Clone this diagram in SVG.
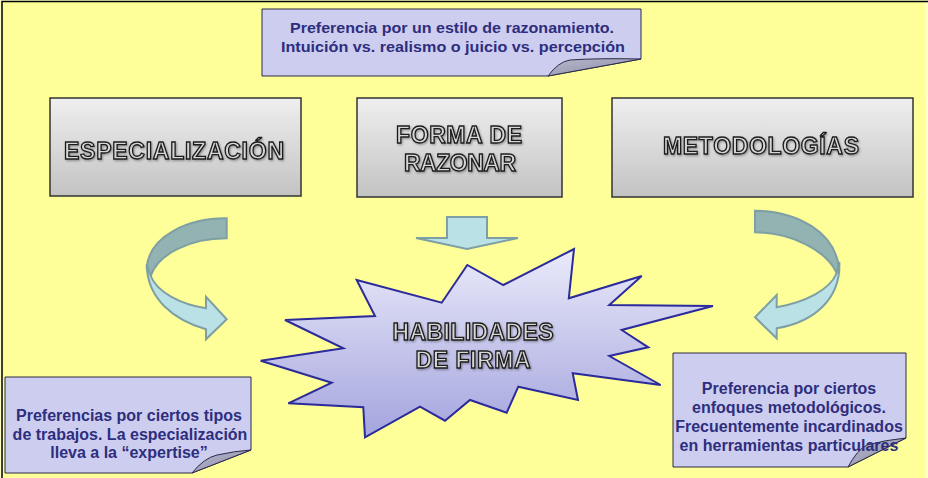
<svg xmlns="http://www.w3.org/2000/svg" width="928" height="478" viewBox="0 0 928 478">
<style>
.box{stroke:#333;stroke-width:1.5;fill:url(#gBox)}
.bt{font-family:"Liberation Sans",Arial,sans-serif;font-weight:bold;font-size:23px;fill:#D6D6D6;stroke:#1a1a1a;stroke-width:1.3;text-anchor:middle;filter:url(#sh)}
.call{fill:#CDCDEF;stroke:#2a2a4a;stroke-width:1}
.flap{fill:url(#gFlap);stroke:#2a2a4a;stroke-width:1}
.ct{font-family:"Liberation Sans",Arial,sans-serif;font-weight:bold;font-size:16px;fill:#2E2E7E;text-anchor:middle}
.ctn{font-family:"Liberation Sans",Arial,sans-serif;font-weight:bold;font-size:15px;fill:#2E2E7E;text-anchor:middle}
.dark{fill:#93B2B2;stroke:#7E9FA3;stroke-width:2}
.light{fill:#BAE2E6;stroke:#7E9FA3;stroke-width:2}
</style>
<defs>
<linearGradient id="gBox" x1="0" y1="0" x2="0" y2="1"><stop offset="0" stop-color="#EFEFEF"/><stop offset="1" stop-color="#C3C3C3"/></linearGradient>
<linearGradient id="gStar" x1="0" y1="0" x2="0" y2="1"><stop offset="0" stop-color="#EAEAFA"/><stop offset="1" stop-color="#A4A4DE"/></linearGradient>
<linearGradient id="gFlap" x1="0" y1="0" x2="1" y2="1"><stop offset="0" stop-color="#B8B8CC"/><stop offset="1" stop-color="#8A8AA8"/></linearGradient>
<filter id="sh" x="-10%" y="-30%" width="120%" height="160%"><feDropShadow dx="1" dy="1.2" stdDeviation="0.8" flood-color="#000" flood-opacity="0.35"/></filter>
</defs>
<rect x="0" y="0" width="928" height="478" fill="#FFFFCC"/>
<rect x="2" y="1" width="923" height="477" fill="#FFFF99"/>
<path d="M2,478 V1.5 H928" fill="none" stroke="#000" stroke-width="1.5"/>

<g id="callout-top">
<polygon class="call" points="262,9 641,9 641,59 548,76 262,76"/>
<path class="flap" d="M548,76 Q558,62 570,60 Q600,58 641,59 Z"/>
<text class="ctn" x="452" y="33" textLength="324" lengthAdjust="spacingAndGlyphs">Preferencia por un estilo de razonamiento.</text>
<text class="ctn" x="453" y="52" textLength="344" lengthAdjust="spacingAndGlyphs">Intuición vs. realismo o juicio vs. percepción</text>
</g>

<g id="especializacion">
<rect class="box" x="50" y="98" width="251" height="98"/>
<text class="bt" x="174" y="159" textLength="220">ESPECIALIZACIÓN</text>
</g>
<g id="forma-de-razonar">
<rect class="box" x="357" y="98" width="205" height="99"/>
<text class="bt" x="459" y="143" textLength="126">FORMA DE</text>
<text class="bt" x="460" y="171" textLength="112">RAZONAR</text>
</g>
<g id="metodologias">
<rect class="box" x="612" y="98" width="301" height="99"/>
<text class="bt" x="761" y="154" textLength="196">METODOLOGÍAS</text>
</g>

<g id="connectors">
<path class="dark" d="M226.7,218.3 C188,218 149,236 146.7,268 L150.7,276 C158,254 190,238.3 226.7,238.3 Z"/>
<path class="light" d="M146.7,264 C147,300 175,320 206,329.3 L206,339.3 L226.7,319.3 L206,296.7 L206,308.3 C180,304 157,292 150.7,276 Z"/>
<polygon class="light" points="447,217 487,217 487,238 518,238 467,249 416,238 447,238"/>
<path class="dark" d="M755,210.7 C797,211 836,232 839.3,270 L836.7,273 C826,250 791,232.3 755,232.3 Z"/>
<path class="light" d="M839.3,262 C841,298 815,322 776.7,328.3 L776.7,338.3 L755,317.3 L776.7,295 L776.7,307.3 C805,302 830,290 836.7,273 Z"/>
</g>

<g id="habilidades">
<polygon fill="url(#gStar)" stroke="#2B2B9B" stroke-width="2" stroke-linejoin="miter" points="356.7,280 441.7,302.7 467.3,265 503.3,285 574,249 568.8,298.3 641.7,276 609.3,305 713,306 621.7,330 648.3,347.3 609.3,356 660.7,385 572.7,373.3 578,400 518.3,386.7 506.7,412.7 470,400 445,420.7 420,406.7 365,437.3 363.3,407.3 288.3,403.3 331.7,382.7 260.7,360.7 343.3,348.3 285,320 375,316"/>
<text class="bt" x="473" y="340" textLength="161">HABILIDADES</text>
<text class="bt" x="473" y="368" textLength="115">DE FIRMA</text>
</g>

<g id="callout-left">
<polygon class="call" points="5,377 251,377 251,450 192,473 5,473"/>
<path class="flap" d="M192,473 Q204,458 217,455 Q235,451 251,450 Z"/>
<text class="ct" x="129" y="421">Preferencias por ciertos tipos</text>
<text class="ct" x="130" y="440">de trabajos. La especialización</text>
<text class="ct" x="129" y="458">lleva a la “expertise”</text>
</g>

<g id="callout-right">
<polygon class="call" points="673,353 906,353 906,438 848,467 673,467"/>
<path class="flap" d="M848,467 Q857,450 867,445 Q885,440 906,438 Z"/>
<text class="ct" x="789" y="394">Preferencia por ciertos</text>
<text class="ct" x="789" y="413">enfoques metodológicos.</text>
<text class="ct" x="789" y="432">Frecuentemente incardinados</text>
<text class="ct" x="789" y="451">en herramientas particulares</text>
</g>
</svg>
